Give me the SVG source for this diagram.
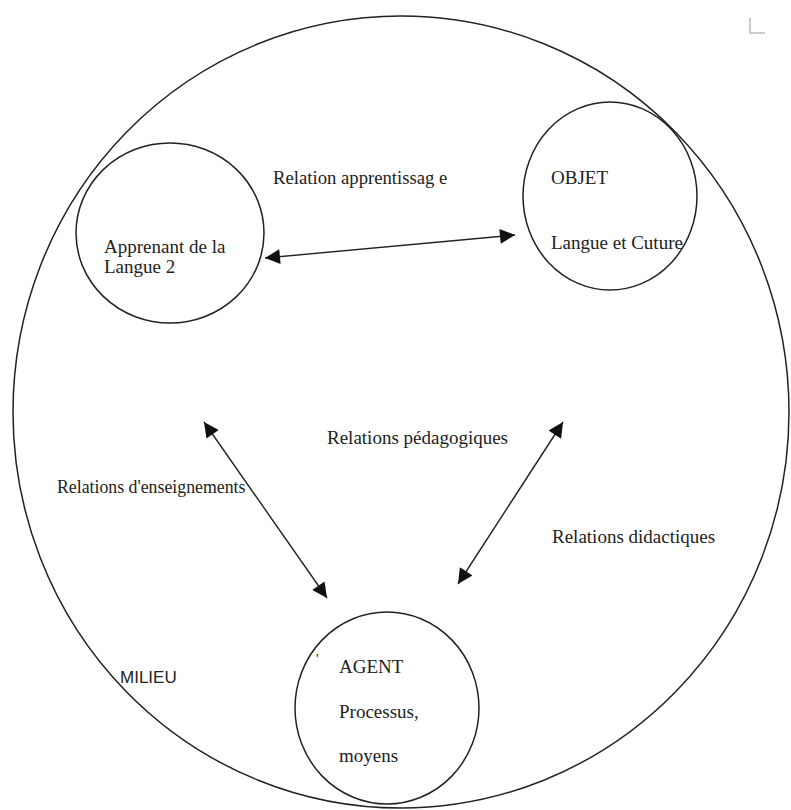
<svg xmlns="http://www.w3.org/2000/svg" width="791" height="810" viewBox="0 0 791 810">
<style>
.c{fill:none;stroke:#222;stroke-width:1.5}
.t{font-family:"Liberation Serif","Times New Roman",serif;font-size:19px;fill:#222}
.s{font-family:"Liberation Sans",Arial,sans-serif;font-size:17px;fill:#222}
.a{stroke:#222;stroke-width:1.4;fill:none;marker-start:url(#ah);marker-end:url(#ah)}
</style>
<defs>
<marker id="ah" viewBox="0 0 10 10" refX="10" refY="5" markerWidth="20" markerHeight="15" markerUnits="userSpaceOnUse" orient="auto-start-reverse">
<path d="M0,0 L10,5 L0,10 Z" fill="#111"/>
</marker>
</defs>
<rect width="791" height="810" fill="#fff"/>
<g id="milieu">
<ellipse class="c" cx="401" cy="412" rx="388" ry="396"/>
<text class="s" x="120" y="683">MILIEU</text>
</g>
<g id="apprenant">
<ellipse class="c" cx="170" cy="233" rx="94" ry="90"/>
<text class="t" x="104" y="253">Apprenant de la</text>
<text class="t" x="104" y="273">Langue 2</text>
</g>
<g id="objet">
<ellipse class="c" cx="610" cy="196" rx="87" ry="94"/>
<text class="t" x="551" y="184">OBJET</text>
<text class="t" x="551" y="249">Langue et Cuture</text>
</g>
<g id="agent">
<ellipse class="c" cx="387" cy="708" rx="92" ry="96"/>
<text class="t" x="316" y="664" style="font-size:14px">'</text>
<text class="t" x="339" y="673">AGENT</text>
<text class="t" x="339" y="718">Processus,</text>
<text class="t" x="339" y="762">moyens</text>
</g>
<g id="connectors">
<line class="a" x1="265" y1="258" x2="515" y2="235"/>
<line class="a" x1="204" y1="422" x2="327" y2="598"/>
<line class="a" x1="563" y1="422" x2="458" y2="584"/>
</g>
<g id="labels">
<text class="t" x="273" y="184" style="font-size:18.7px">Relation apprentissag e</text>
<text class="t" x="327" y="444">Relations pédagogiques</text>
<text class="t" x="57" y="493" style="font-size:17.8px">Relations d'enseignements</text>
<text class="t" x="552" y="543">Relations didactiques</text>
</g>
<path d="M750,18 V33 H765" fill="none" stroke="#bbb" stroke-width="1.5"/>
</svg>
